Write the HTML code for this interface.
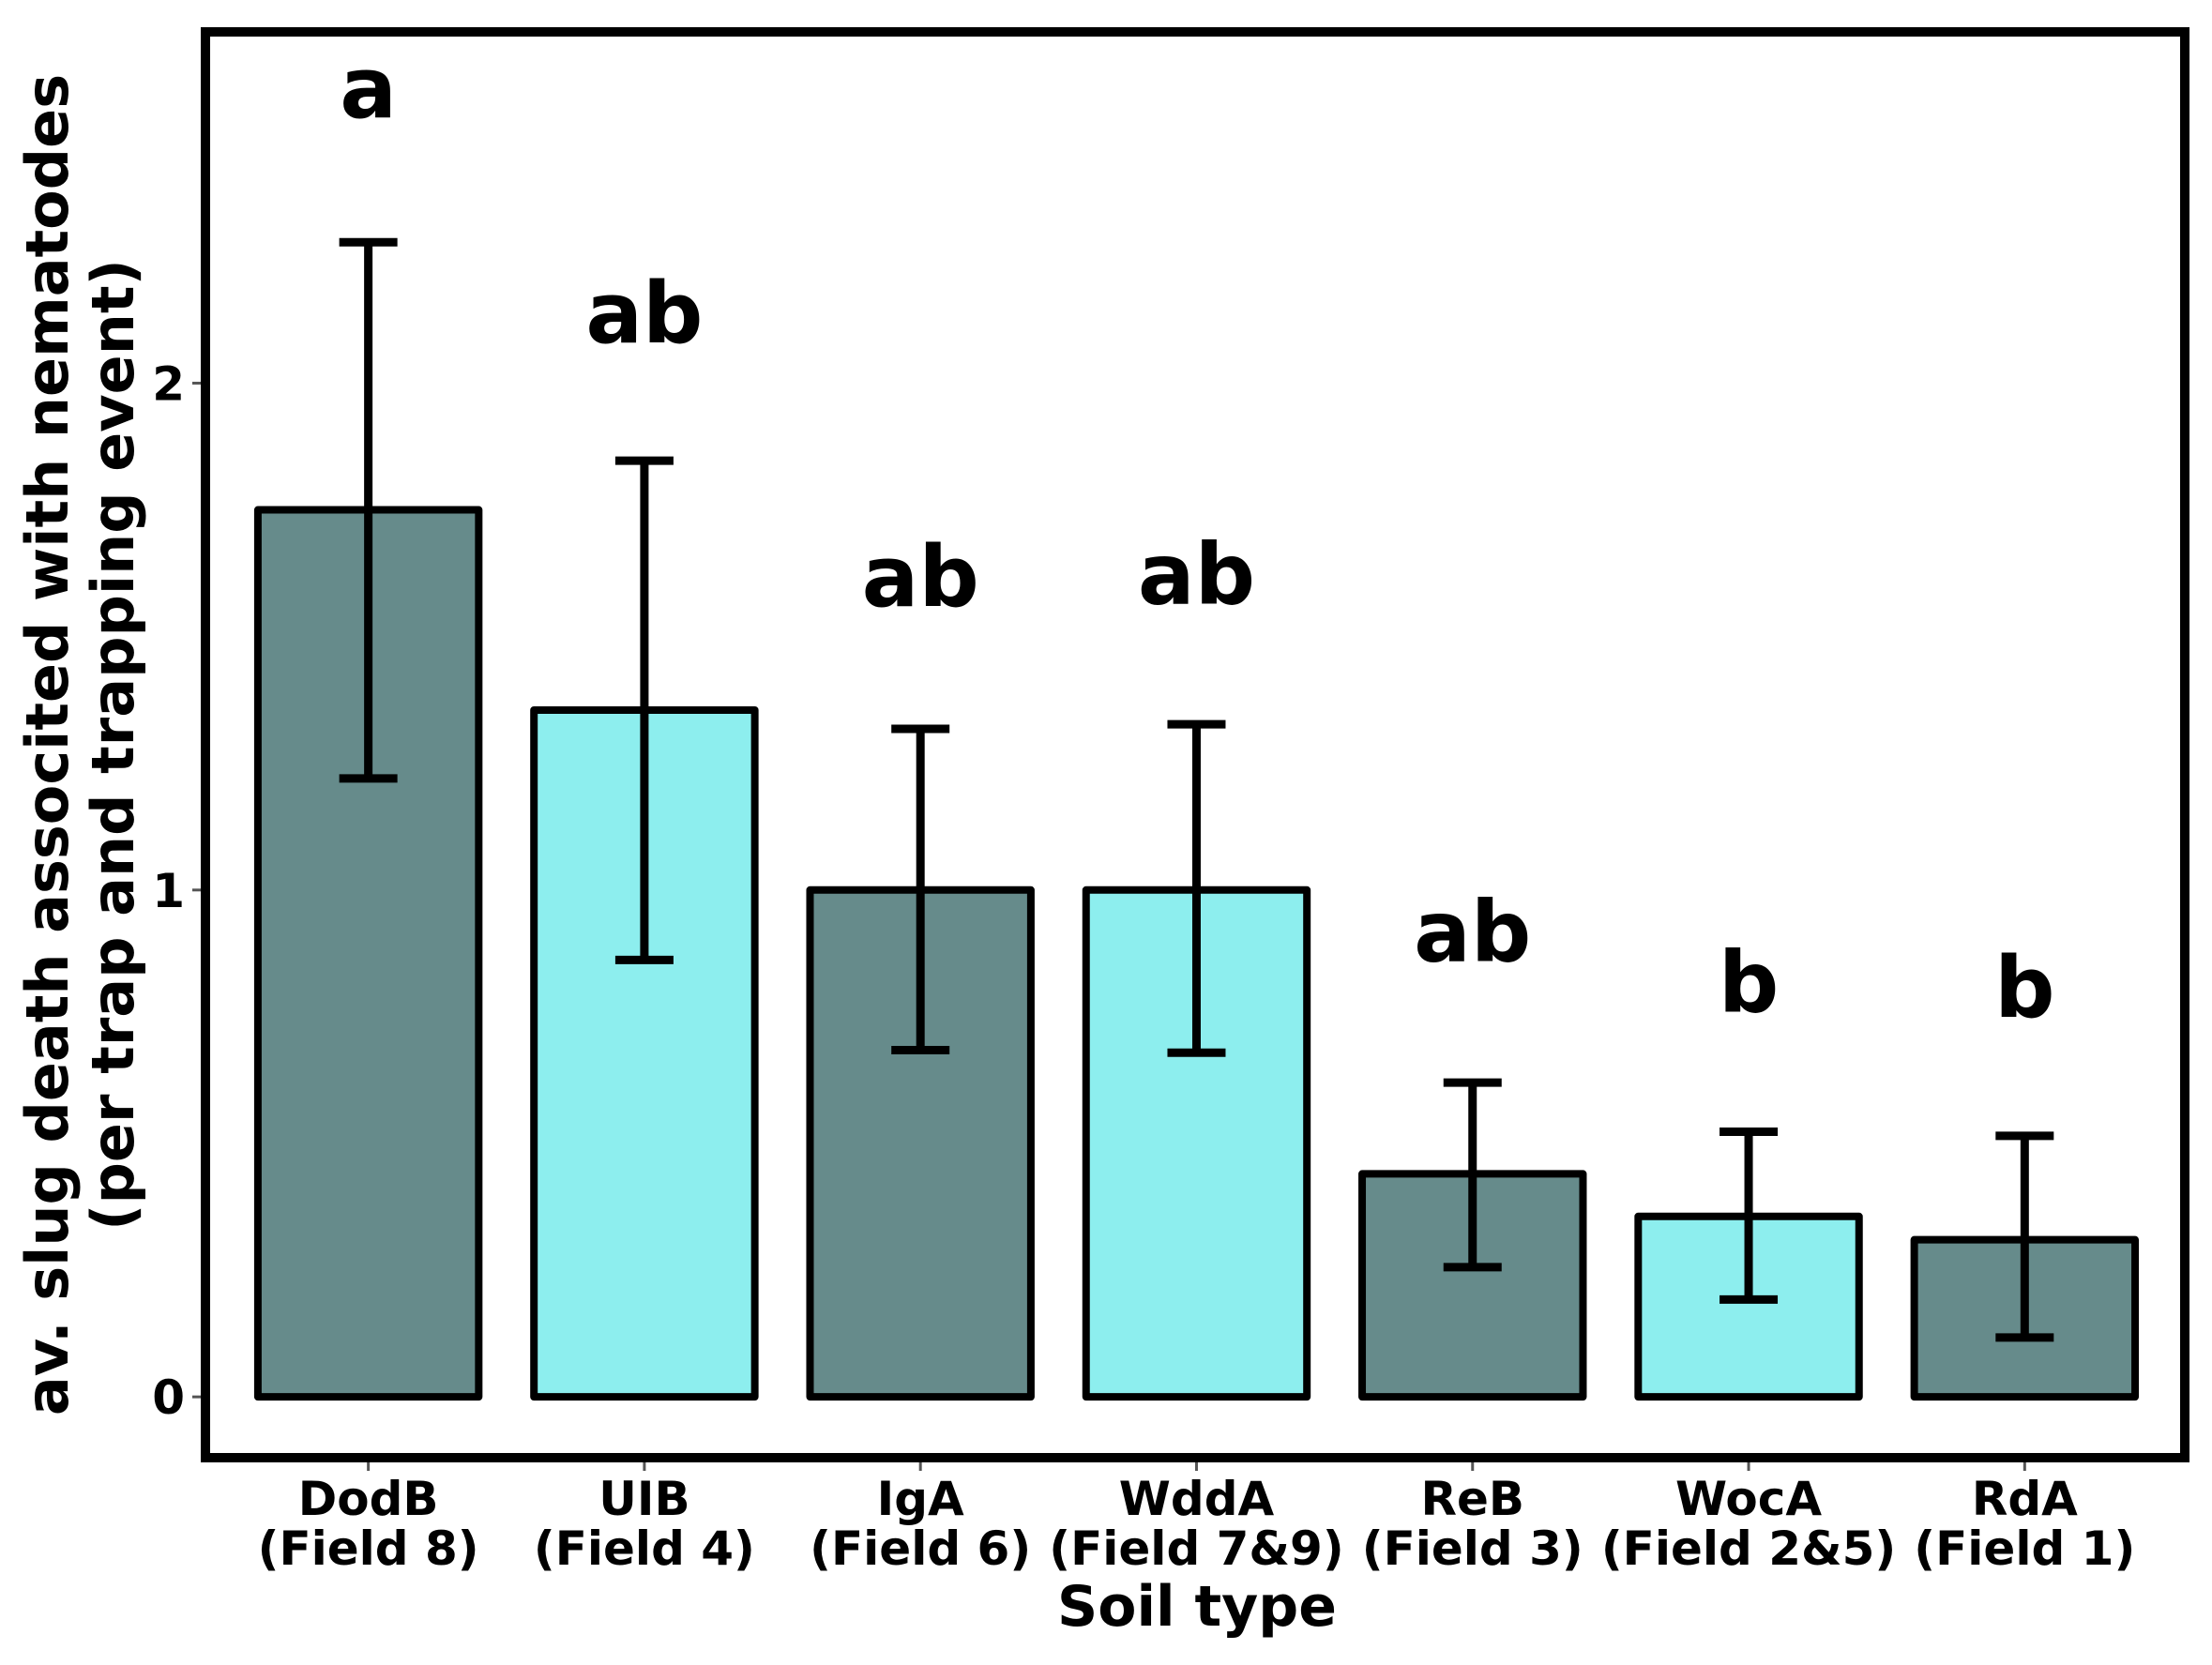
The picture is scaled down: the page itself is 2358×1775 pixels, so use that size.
<!DOCTYPE html>
<html><head><meta charset="utf-8">
<style>
html,body{margin:0;padding:0;background:#fff;}
svg{display:block;}
text{font-family:"DejaVu Sans","Liberation Sans",sans-serif;font-weight:bold;fill:#000;}
</style></head>
<body>
<svg id="chart" width="2358" height="1775" viewBox="0 0 2358 1775" xmlns="http://www.w3.org/2000/svg">
<rect x="0" y="0" width="2358" height="1775" fill="#fff"/>
<g id="bars"></g>
<g id="errs"></g>
<g id="letters"></g>
<g id="axes"></g>
<rect x="219" y="34" width="2110" height="1520" fill="none" stroke="#000" stroke-width="10"/>
<text x="1276" y="1733" font-size="60" text-anchor="middle">Soil type</text>
<text transform="translate(72,794) rotate(-90)" font-size="62" text-anchor="middle">av. slug death associted with nematodes</text>
<text transform="translate(142,794) rotate(-90)" font-size="62" text-anchor="middle">(per trap and trapping event)</text>
</svg>
<script>
const categories = ["DodB", "UIB", "IgA", "WddA", "ReB", "WocA", "RdA"];
const fields = ["(Field 8)", "(Field 4)", "(Field 6)", "(Field 7&9)", "(Field 3)", "(Field 2&5)", "(Field 1)"];
const means = [1.75, 1.355, 1.0, 1.0, 0.44, 0.356, 0.31];
const errUpper = [2.278, 1.847, 1.318, 1.327, 0.62, 0.523, 0.515];
const errLower = [1.22, 0.862, 0.684, 0.679, 0.256, 0.192, 0.117];
const letters = ["a", "ab", "ab", "ab", "ab", "b", "b"];
const letterY = [2.525, 2.08, 1.56, 1.565, 0.86, 0.76, 0.75];
const yTicks = [0, 1, 2];

const NS = "http://www.w3.org/2000/svg";
const X0 = 219, X1 = 2329, Y0 = 34, Y1 = 1554;
const xMin = -0.59, xMax = 6.58, yMin = -0.12, yMax = 2.693;
function xs(i){ return X0 + (i - xMin) / (xMax - xMin) * (X1 - X0); }
function ys(v){ return Y1 - (v - yMin) / (yMax - yMin) * (Y1 - Y0); }
function mk(tag, attrs, parent){
  const e = document.createElementNS(NS, tag);
  for (const k in attrs) e.setAttribute(k, attrs[k]);
  parent.appendChild(e);
  return e;
}
const colors = ["#668B8B", "#8DEEEE"];
const gb = document.getElementById("bars"), ge = document.getElementById("errs");
const gl = document.getElementById("letters"), ga = document.getElementById("axes");
const bw = 0.8;
categories.forEach((c, i) => {
  const xl = xs(i - bw/2), xr = xs(i + bw/2);
  const r = mk("rect", {x: xl, y: ys(means[i]), width: xr - xl, height: ys(0) - ys(means[i]),
    fill: colors[i % 2], stroke: "#000", "stroke-width": 8, "stroke-linejoin": "round"}, gb);
  
  
  const cx = xs(i);
  const v = mk("line", {x1: cx, x2: cx, y1: ys(errUpper[i]), y2: ys(errLower[i]), stroke: "#000", "stroke-width": 9}, ge);
  
  
  [errUpper[i], errLower[i]].forEach(val => {
    const cap = mk("line", {x1: cx - 31, x2: cx + 31, y1: ys(val), y2: ys(val), stroke: "#000", "stroke-width": 9}, ge);
    
    
  });
  const t = mk("text", {x: cx, y: ys(letterY[i]), "font-size": 90, "text-anchor": "middle"}, gl);
  t.textContent = letters[i];
  
  
  const tk = mk("line", {x1: cx, x2: cx, y1: Y1 + 5, y2: Y1 + 14, stroke: "#555", "stroke-width": 3}, ga);
  
  
  const l1 = mk("text", {x: cx, y: 1615, "font-size": 50, "text-anchor": "middle"}, ga);
  l1.textContent = c;
  
  
  const l2 = mk("text", {x: cx, y: 1668, "font-size": 50, "text-anchor": "middle"}, ga);
  l2.textContent = fields[i];
  
  
});
yTicks.forEach(v => {
  const tk = mk("line", {x1: X0 - 14, x2: X0 - 5, y1: ys(v), y2: ys(v), stroke: "#555", "stroke-width": 3}, ga);
  
  
  const t = mk("text", {x: X0 - 22, y: ys(v) + 18, "font-size": 50, "text-anchor": "end"}, ga);
  t.textContent = v;
  
  
});
</script>
</body></html>
